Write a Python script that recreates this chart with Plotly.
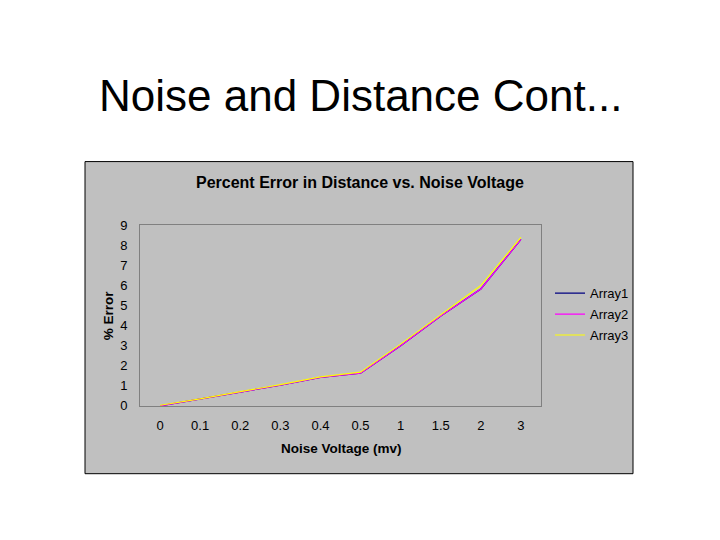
import plotly.graph_objects as go

# noise voltage categories (mv) and percent error for each array
noise_voltage = ["0", "0.1", "0.2", "0.3", "0.4", "0.5", "1", "1.5", "2", "3"]
array1 = [0.0, 0.33, 0.69, 1.03, 1.42, 1.63, 3.0, 4.48, 5.83, 8.3]
array2 = [0.0, 0.33, 0.69, 1.03, 1.42, 1.63, 3.0, 4.48, 5.83, 8.3]
array3 = [0.03, 0.35, 0.71, 1.06, 1.45, 1.68, 3.08, 4.55, 6.0, 8.4]

series = [("Array1", array1, "#000080"),
          ("Array2", array2, "#ff00ff"),
          ("Array3", array3, "#ffff00")]

W, H = 720, 540


# map screen pixels (as measured on the photo) to paper coords
def px(x):
    return (x - 8) / W


def py(y):
    return 1 - ((y - 13) / 0.975) / H


fig = go.Figure()
for name, vals, col in series:
    fig.add_trace(go.Scatter(x=noise_voltage, y=vals, mode="lines", name=name,
                             legendgroup=name, line=dict(color=col, width=1.2)))

# chart box (excel style gray area)
fig.add_shape(type="rect", xref="paper", yref="paper",
              x0=px(85), x1=px(633), y0=py(473), y1=py(160),
              fillcolor="#c0c0c0", line=dict(color="#000000", width=1), layer="below")

fig.update_layout(
    width=W, height=H,
    margin=dict(l=0, r=0, t=0, b=0),
    paper_bgcolor="white",
    plot_bgcolor="#c0c0c0",
    font=dict(family="Arial, Liberation Sans", size=13, color="black"),
    showlegend=True,
    legend=dict(x=px(550), y=py(277), xanchor="left", yanchor="top",
                bgcolor="rgba(0,0,0,0)", font=dict(size=13), tracegroupgap=1),
    annotations=[
        dict(text="Noise and Distance Cont...", x=px(360), y=py(94), xref="paper", yref="paper",
             showarrow=False, font=dict(size=44, color="black"), xanchor="center", yanchor="middle"),
        dict(text="<b>Percent Error in Distance vs. Noise Voltage</b>", x=px(360), y=py(181),
             xref="paper", yref="paper", showarrow=False, font=dict(size=16),
             xanchor="center", yanchor="middle"),
        dict(text="<b>% Error</b>", x=px(108), y=py(314), xref="paper", yref="paper",
             showarrow=False, textangle=-90, font=dict(size=13.5),
             xanchor="center", yanchor="middle"),
        dict(text="<b>Noise Voltage (mv)</b>", x=px(341), y=py(448), xref="paper", yref="paper",
             showarrow=False, font=dict(size=13.5), xanchor="center", yanchor="middle"),
    ],
)

fig.update_xaxes(domain=[px(140), px(541)], type="category", range=[-0.5, 9.5],
                 showgrid=False, zeroline=False, showline=True, linecolor="#808080",
                 mirror=True, ticks="", ticklabelstandoff=8, tickfont=dict(size=13))
fig.update_yaxes(domain=[py(405), py(224)], range=[0, 9], dtick=1,
                 showgrid=False, zeroline=False, showline=True, linecolor="#808080",
                 mirror=True, ticks="", ticklabelstandoff=9, tickfont=dict(size=13))

fig.write_html("out.html")
